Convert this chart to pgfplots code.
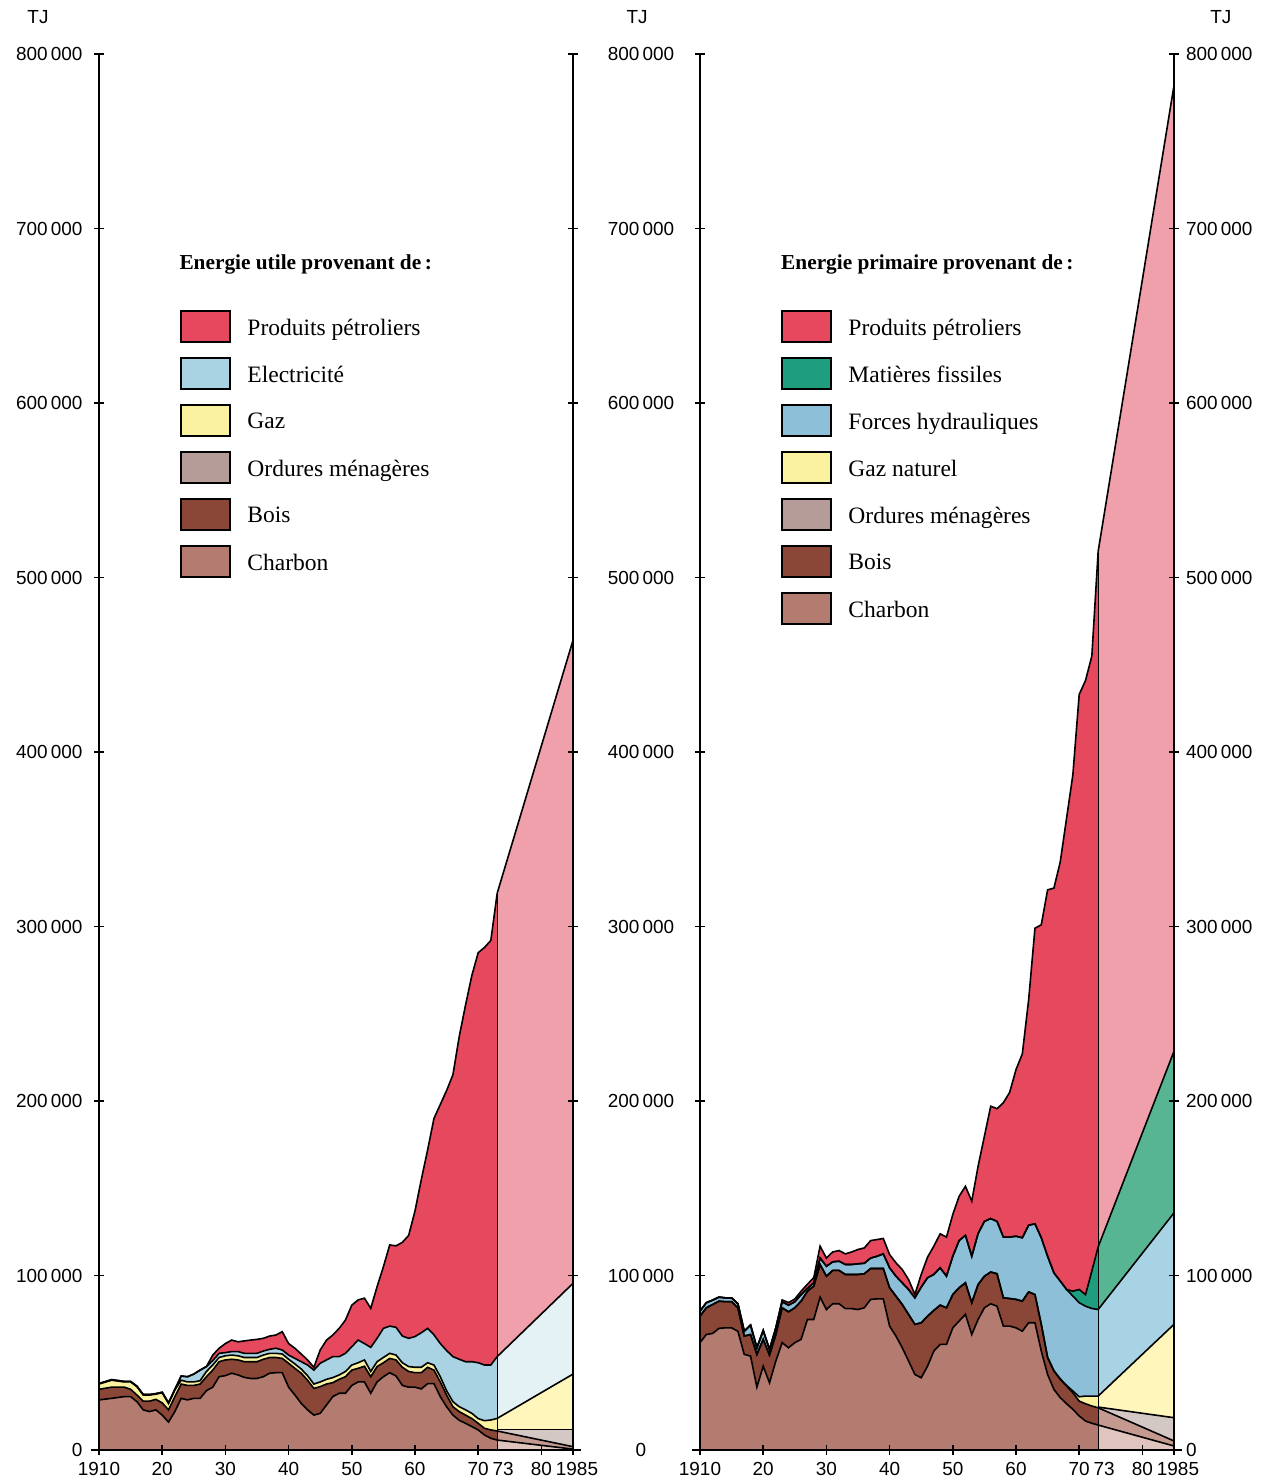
\documentclass[border=0pt]{standalone}
\usepackage{fontspec}
\setmainfont{Liberation Serif}
\setsansfont{Liberation Sans}
\usepackage{pgfplots}
\pgfplotsset{compat=1.18}
\usepackage{pgfplotstable}

\definecolor{cRed}{HTML}{E6485E}
\definecolor{cRedP}{HTML}{EFA0AA}
\definecolor{cBlueL}{HTML}{A9D3E3}
\definecolor{cBlueLP}{HTML}{E4F1F5}
\definecolor{cBlueR}{HTML}{8DBFD8}
\definecolor{cBlueRP}{HTML}{A8D3E5}
\definecolor{cYel}{HTML}{FBF2A0}
\definecolor{cYelP}{HTML}{FFF6BC}
\definecolor{cGreen}{HTML}{1E9E7E}
\definecolor{cGreenP}{HTML}{58B594}
\definecolor{cCh}{HTML}{B47C70}
\definecolor{cChP}{HTML}{E0C4BE}
\definecolor{cBo}{HTML}{8A4636}
\definecolor{cBoP}{HTML}{C49A90}
\definecolor{cOr}{HTML}{B59C98}
\definecolor{cOrP}{HTML}{D4C8C5}

% Left panel: cumulative tops (thousand TJ)
\pgfplotstableread{
year ch bo ga el pe
1910 28.7 34.8 37.8 38.1 38.1
1912 29.6 36.0 40.0 40.3 40.3
1914 30.6 36.0 39.0 39.3 39.3
1915 30.6 34.8 39.0 39.3 39.3
1916 27.7 31.5 36.3 36.6 36.6
1917 23.0 28.0 31.5 31.8 31.8
1918 22.0 28.0 31.5 31.8 31.8
1919 23.0 29.0 32.0 32.3 32.3
1920 20.0 27.0 32.8 33.1 33.1
1921 16.0 23.0 26.7 27.0 27.0
1922 22.0 30.6 34.4 34.7 34.7
1923 29.6 37.8 40.0 42.4 42.4
1924 28.7 37.0 39.0 42.0 42.0
1925 29.6 37.0 39.0 43.5 43.5
1926 29.6 37.8 39.7 45.8 45.8
1927 34.0 42.0 45.0 47.8 47.8
1928 36.0 45.8 48.7 51.2 54.4
1929 42.0 50.6 53.0 55.4 58.3
1930 42.6 51.6 54.0 55.8 61.0
1931 44.0 52.0 54.4 56.4 63.0
1932 43.0 51.6 54.0 56.4 62.0
1933 41.6 50.6 53.0 55.4 62.5
1934 41.0 50.6 53.0 55.4 63.0
1935 41.0 50.6 53.0 55.4 63.4
1936 42.0 52.0 54.4 56.7 64.0
1937 44.0 53.0 55.4 57.7 65.3
1938 44.3 53.0 55.4 58.3 65.9
1939 44.3 52.5 55.0 57.3 67.8
1940 36.0 49.7 52.0 54.4 61.0
1941 31.5 46.8 49.3 52.5 58.3
1942 26.7 44.0 46.4 50.6 55.0
1943 23.0 40.0 42.6 48.7 51.6
1944 20.0 35.3 37.8 45.8 47.4
1945 21.0 36.3 39.0 49.7 57.3
1946 25.8 37.8 40.5 51.6 63.0
1947 30.6 38.6 41.5 53.5 65.9
1948 32.5 40.5 43.0 53.5 69.7
1949 32.5 42.0 45.0 55.4 74.5
1950 37.0 45.8 48.7 59.2 83.0
1951 39.0 46.8 50.0 63.0 86.0
1952 39.0 48.0 51.6 61.0 87.0
1953 32.5 42.0 45.0 58.8 81.2
1954 39.0 47.8 50.6 64.0 93.6
1955 42.0 50.0 53.0 69.7 105.0
1956 44.3 52.5 55.4 71.0 117.5
1957 42.4 51.6 54.4 70.3 117.0
1958 37.0 47.4 50.0 65.3 119.0
1959 36.0 45.0 47.8 64.0 123.0
1960 36.0 44.3 47.4 65.0 137.0
1961 35.0 44.3 47.4 67.2 155.0
1962 38.0 47.4 50.0 69.7 172.0
1963 38.0 45.8 48.7 66.0 190.0
1964 30.6 39.0 42.0 61.0 198.0
1965 24.8 31.5 34.0 57.0 206.0
1966 20.0 24.8 27.7 53.5 215.0
1967 17.0 22.0 24.8 52.0 237.0
1968 15.3 20.0 23.0 50.6 255.0
1969 13.4 18.0 21.0 50.6 272.0
1970 11.5 15.3 18.0 50.0 285.0
1971 8.6 12.4 16.8 48.7 288.0
1972 6.7 11.5 17.2 48.7 292.0
1973 5.7 10.9 18.1 53.5 319.0
}\leftHist
\pgfplotstableread{
year ch bo or ga el pe
1973 5.7 10.9 11.8 18.1 53.5 319.0
1985 0.5 1.9 11.8 43.5 95.5 464.0
}\leftProj

% Right panel: cumulative tops (thousand TJ)
\pgfplotstableread{
year ch bo ga hy fi pe
1910 61.5 76.7 76.7 79.6 79.6 79.6
1911 66.2 81.5 81.5 84.4 84.4 84.4
1912 66.8 83.4 83.4 85.9 85.9 85.9
1913 69.7 85.3 85.3 87.6 87.6 87.6
1914 70.0 85.0 85.0 87.2 87.2 87.2
1915 70.0 85.0 85.0 87.2 87.2 87.2
1916 68.0 81.5 81.5 83.8 83.8 83.8
1917 54.8 65.3 65.3 68.1 68.1 68.1
1918 53.8 66.2 66.2 71.6 71.6 71.6
1919 36.0 54.8 54.8 58.6 58.6 58.6
1920 48.0 63.4 63.4 68.5 68.5 68.5
1921 38.5 54.4 54.4 57.6 57.6 57.6
1922 51.0 66.2 66.2 70.0 70.0 70.0
1923 61.5 81.5 81.5 84.9 84.9 86.0
1924 58.6 79.2 79.2 83.0 83.0 84.5
1925 61.5 81.5 81.5 84.9 84.9 86.5
1926 63.4 85.3 85.3 89.1 89.1 91.0
1927 74.8 91.0 91.0 92.6 92.6 95.0
1928 74.8 93.9 93.9 95.8 95.8 98.7
1929 87.6 106.3 106.3 110.0 110.0 116.8
1930 80.5 99.6 99.6 105.3 105.3 110.0
1931 83.8 102.9 102.9 107.8 107.8 113.5
1932 83.8 102.9 102.9 108.2 108.2 114.3
1933 81.0 100.6 100.6 106.3 106.3 112.4
1934 81.0 100.6 100.6 106.3 106.3 113.5
1935 80.5 100.6 100.6 106.7 106.7 114.9
1936 81.5 101.0 101.0 107.0 107.0 115.8
1937 86.3 104.0 104.0 110.0 110.0 120.0
1938 86.6 104.0 104.0 111.0 111.0 120.6
1939 86.6 104.0 104.0 112.4 112.4 121.2
1940 71.0 93.0 93.0 104.4 104.4 112.0
1941 65.3 88.2 88.2 99.6 99.6 107.3
1942 58.6 83.4 83.4 95.8 95.8 103.4
1943 51.0 77.7 77.7 92.0 92.0 97.7
1944 43.3 72.0 72.0 87.2 87.2 89.1
1945 41.4 72.9 72.9 93.3 93.3 100.6
1946 48.0 76.7 76.7 98.7 98.7 110.5
1947 56.7 80.0 80.0 100.6 100.6 116.8
1948 60.5 83.0 83.0 104.4 104.4 123.9
1949 60.5 81.5 81.5 99.6 99.6 122.0
1950 70.0 89.1 89.1 111.0 111.0 135.0
1951 73.9 93.0 93.0 120.0 120.0 145.4
1952 77.7 95.8 95.8 123.0 123.0 151.1
1953 66.2 84.4 84.4 111.0 111.0 142.6
1954 74.8 94.8 94.8 124.0 124.0 162.6
1955 81.5 99.6 99.6 131.0 131.0 179.8
1956 83.8 102.0 102.0 132.6 132.6 197.0
1957 82.4 101.0 101.0 131.0 131.0 195.6
1958 71.0 87.2 87.2 122.0 122.0 199.0
1959 71.0 86.8 86.8 122.0 122.0 205.0
1960 70.0 86.3 86.3 122.5 122.5 218.0
1961 68.1 85.3 85.3 121.6 121.6 227.0
1962 72.9 90.6 90.6 128.8 128.8 258.0
1963 72.9 89.1 89.1 129.6 129.6 299.0
1964 56.7 72.0 72.0 121.6 121.6 301.0
1965 43.3 52.9 53.2 111.0 111.0 321.0
1966 34.7 45.2 45.5 101.5 101.5 322.0
1967 30.0 40.5 40.8 96.8 96.8 337.0
1968 26.5 36.6 37.0 92.0 92.0 362.0
1969 23.3 32.8 33.8 88.2 91.0 387.0
1970 19.5 28.0 30.5 84.4 92.0 433.0
1971 16.6 26.5 30.9 82.4 89.0 441.0
1972 15.3 25.2 30.9 81.1 102.5 455.0
1973 14.3 24.2 30.9 80.5 116.4 515.0
}\rightHist
\pgfplotstableread{
year ch bo or ga hy fi pe
1973 14.3 24.2 24.6 30.9 80.5 116.4 515.0
1985 2.3 5.2 18.5 72.0 135.9 228.5 782.0
}\rightProj

\pgfplotsset{
  panel/.style={
    scale only axis, width=237bp, height=698bp,
    xmin=1910, xmax=1985, ymin=0, ymax=800,
    axis on top, clip mode=individual,
    tick align=outside, major tick length=5bp,
    tick style={black, line width=0.8bp},
    xtick={1910,1920,1930,1940,1950,1960,1970,1980,1985},
    ytick={0,100,...,800},
    minor tick num=0,
    tick label style={font=\sffamily\fontsize{9.5}{11}\selectfont},
    /pgf/number format/assume math mode=true,
  },
  mainpanel/.style={
    panel,
    axis x line=bottom, axis y line=left,
    axis line style={-, line width=1.1bp},
    y axis line style={-},
    x axis line style={-, shorten <=-4bp, shorten >=-4bp},
    xticklabels={1910,20,30,40,50,60,70,80,\hspace*{4bp}1985},
    extra x ticks={1973}, extra x tick labels={73},
    extra x tick style={tick style={draw=none}, tick label style={xshift=3bp}},
    yticklabels={0,100\,000,200\,000,300\,000,400\,000,500\,000,600\,000,700\,000,800\,000},
    legend style={at={(axis description cs:0.171,0.8166)}, anchor=north west,
      draw=none, fill=none, inner sep=0pt, row sep=7bp, column sep=8bp,
      nodes={inner sep=0pt},
      font=\fontsize{11.8}{13}\selectfont},
    legend cell align=left,
    legend image code/.code={\draw[##1, draw=black, line width=1bp] (0bp,-7bp) rectangle (24.5bp,8.5bp);},
  },
  rightline/.style={
    panel,
    axis x line=none, axis y line=right,
    axis line style={-, line width=1.1bp},
    y axis line style={-},
    xticklabels={},
  },
  bd/.style={black, line width=0.8bp, forget plot},
}

\begin{document}
\begin{tikzpicture}
% ---------------- Left panel ----------------
\begin{axis}[mainpanel, at={(0bp,0bp)}, anchor=south west,
  yticklabel style={xshift=-2.3bp}]
% historical fills
\addplot[fill=cRed, draw=none, forget plot] table[x=year, y=pe] {\leftHist} \closedcycle;
\addplot[fill=cBlueL, draw=none, forget plot] table[x=year, y=el] {\leftHist} \closedcycle;
\addplot[fill=cYel, draw=none, forget plot] table[x=year, y=ga] {\leftHist} \closedcycle;
\addplot[fill=cBo, draw=none, forget plot] table[x=year, y=bo] {\leftHist} \closedcycle;
\addplot[fill=cCh, draw=none, forget plot] table[x=year, y=ch] {\leftHist} \closedcycle;
% projection fills
\addplot[fill=cRedP, draw=none, forget plot] table[x=year, y=pe] {\leftProj} \closedcycle;
\addplot[fill=cBlueLP, draw=none, forget plot] table[x=year, y=el] {\leftProj} \closedcycle;
\addplot[fill=cYelP, draw=none, forget plot] table[x=year, y=ga] {\leftProj} \closedcycle;
\addplot[fill=cOrP, draw=none, forget plot] table[x=year, y=or] {\leftProj} \closedcycle;
\addplot[fill=cBoP, draw=none, forget plot] table[x=year, y=bo] {\leftProj} \closedcycle;
\addplot[fill=cChP, draw=none, forget plot] table[x=year, y=ch] {\leftProj} \closedcycle;
% boundary lines
\addplot[bd] table[x=year, y=pe] {\leftHist};
\addplot[bd] table[x=year, y=el] {\leftHist};
\addplot[bd] table[x=year, y=ga] {\leftHist};
\addplot[bd] table[x=year, y=bo] {\leftHist};
\addplot[bd] table[x=year, y=ch] {\leftHist};
\addplot[bd] table[x=year, y=pe] {\leftProj};
\addplot[bd] table[x=year, y=el] {\leftProj};
\addplot[bd] table[x=year, y=ga] {\leftProj};
\addplot[bd] table[x=year, y=or] {\leftProj};
\addplot[bd] table[x=year, y=bo] {\leftProj};
\addplot[bd] table[x=year, y=ch] {\leftProj};
\addplot[black, line width=0.5bp, forget plot] coordinates {(1973,0) (1973,319)};
% legend
\addlegendimage{fill=cRed}\addlegendentry{Produits pétroliers}
\addlegendimage{fill=cBlueL}\addlegendentry{Electricité}
\addlegendimage{fill=cYel}\addlegendentry{Gaz}
\addlegendimage{fill=cOr}\addlegendentry{Ordures ménagères}
\addlegendimage{fill=cBo}\addlegendentry{Bois}
\addlegendimage{fill=cCh}\addlegendentry{Charbon}
\node[anchor=west, inner sep=0pt, font=\bfseries\fontsize{10.7}{12}\selectfont] at (axis description cs:0.169,0.849) {Energie utile provenant de\,:};
\node[font=\sffamily\fontsize{9.5}{11}\selectfont] at (axis description cs:-0.1287,1.0265) {TJ};
\end{axis}
\begin{axis}[rightline, at={(0bp,0bp)}, anchor=south west, yticklabels={,,,,,,,,}]
\end{axis}

% ---------------- Right panel ----------------
\begin{axis}[mainpanel, at={(300.5bp,0bp)}, anchor=south west,
  yticklabel style={anchor=center, xshift=-27bp}]
% historical fills
\addplot[fill=cRed, draw=none, forget plot] table[x=year, y=pe] {\rightHist} \closedcycle;
\addplot[fill=cGreen, draw=none, forget plot] table[x=year, y=fi] {\rightHist} \closedcycle;
\addplot[fill=cBlueR, draw=none, forget plot] table[x=year, y=hy] {\rightHist} \closedcycle;
\addplot[fill=cYel, draw=none, forget plot] table[x=year, y=ga] {\rightHist} \closedcycle;
\addplot[fill=cBo, draw=none, forget plot] table[x=year, y=bo] {\rightHist} \closedcycle;
\addplot[fill=cCh, draw=none, forget plot] table[x=year, y=ch] {\rightHist} \closedcycle;
% projection fills
\addplot[fill=cRedP, draw=none, forget plot] table[x=year, y=pe] {\rightProj} \closedcycle;
\addplot[fill=cGreenP, draw=none, forget plot] table[x=year, y=fi] {\rightProj} \closedcycle;
\addplot[fill=cBlueRP, draw=none, forget plot] table[x=year, y=hy] {\rightProj} \closedcycle;
\addplot[fill=cYelP, draw=none, forget plot] table[x=year, y=ga] {\rightProj} \closedcycle;
\addplot[fill=cOrP, draw=none, forget plot] table[x=year, y=or] {\rightProj} \closedcycle;
\addplot[fill=cBoP, draw=none, forget plot] table[x=year, y=bo] {\rightProj} \closedcycle;
\addplot[fill=cChP, draw=none, forget plot] table[x=year, y=ch] {\rightProj} \closedcycle;
% boundary lines
\addplot[bd] table[x=year, y=pe] {\rightHist};
\addplot[bd] table[x=year, y=fi] {\rightHist};
\addplot[bd] table[x=year, y=hy] {\rightHist};
\addplot[bd] table[x=year, y=ga] {\rightHist};
\addplot[bd] table[x=year, y=bo] {\rightHist};
\addplot[bd] table[x=year, y=ch] {\rightHist};
\addplot[bd] table[x=year, y=pe] {\rightProj};
\addplot[bd] table[x=year, y=fi] {\rightProj};
\addplot[bd] table[x=year, y=hy] {\rightProj};
\addplot[bd] table[x=year, y=ga] {\rightProj};
\addplot[bd] table[x=year, y=or] {\rightProj};
\addplot[bd] table[x=year, y=bo] {\rightProj};
\addplot[bd] table[x=year, y=ch] {\rightProj};
\addplot[black, line width=0.5bp, forget plot] coordinates {(1973,0) (1973,515)};
% legend
\addlegendimage{fill=cRed}\addlegendentry{Produits pétroliers}
\addlegendimage{fill=cGreen}\addlegendentry{Matières fissiles}
\addlegendimage{fill=cBlueR}\addlegendentry{Forces hydrauliques}
\addlegendimage{fill=cYel}\addlegendentry{Gaz naturel}
\addlegendimage{fill=cOr}\addlegendentry{Ordures ménagères}
\addlegendimage{fill=cBo}\addlegendentry{Bois}
\addlegendimage{fill=cCh}\addlegendentry{Charbon}
\node[anchor=west, inner sep=0pt, font=\bfseries\fontsize{10.7}{12}\selectfont] at (axis description cs:0.1705,0.849) {Energie primaire provenant de\,:};
\node[font=\sffamily\fontsize{9.5}{11}\selectfont] at (axis description cs:-0.1326,1.0265) {TJ};
\node[font=\sffamily\fontsize{9.5}{11}\selectfont] at (axis description cs:1.099,1.0265) {TJ};
\end{axis}
\begin{axis}[rightline, at={(300.5bp,0bp)}, anchor=south west,
  yticklabels={0,100\,000,200\,000,300\,000,400\,000,500\,000,600\,000,700\,000,800\,000}]
\end{axis}

\pgfresetboundingbox
\useasboundingbox (-49.5bp,-17bp) rectangle (587bp,725bp);
\end{tikzpicture}
\end{document}
